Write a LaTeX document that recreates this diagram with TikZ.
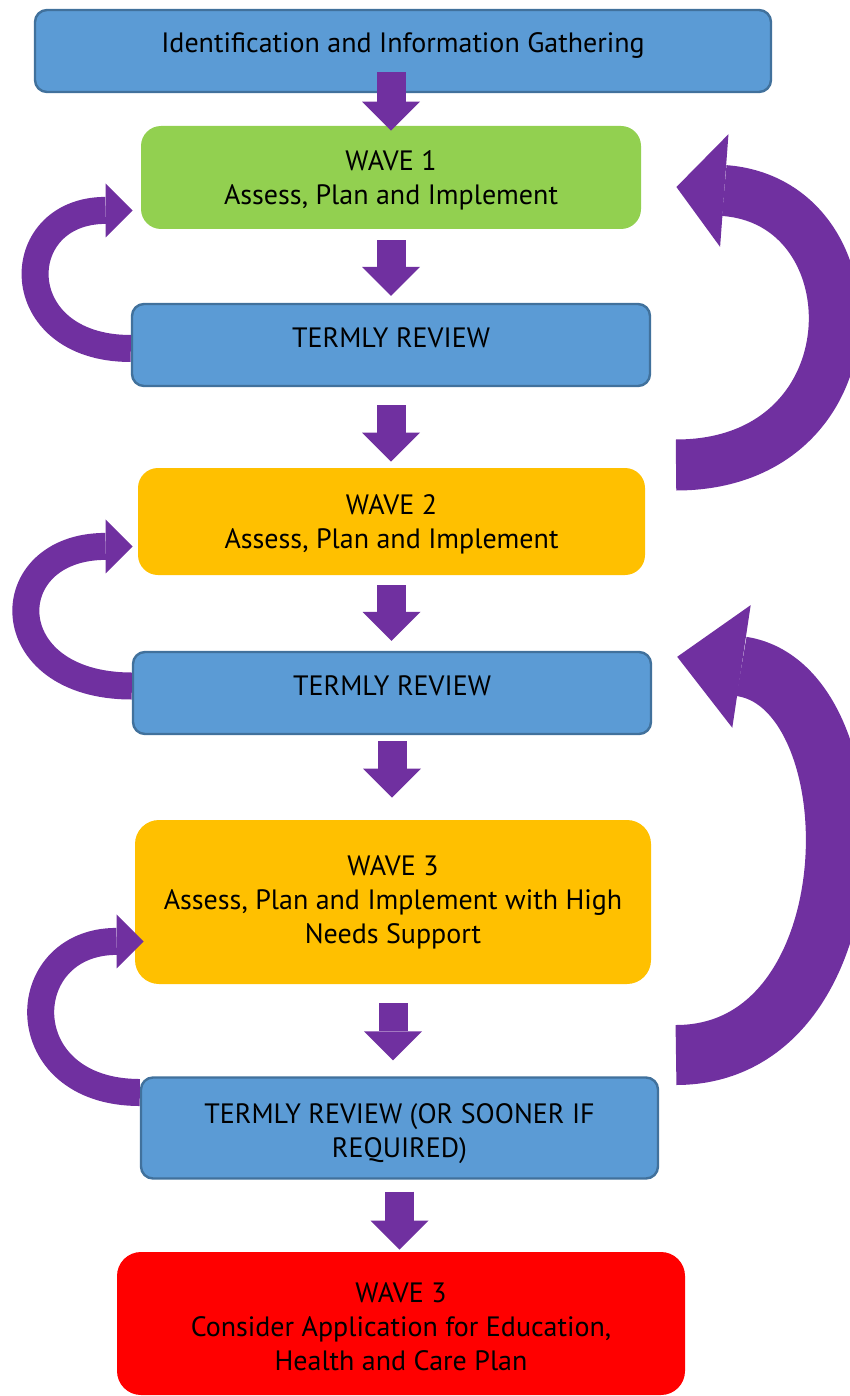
\documentclass[tikz,border=0pt]{standalone}
\usepackage{fontspec}
\setmainfont{PT Sans}
\usetikzlibrary{arrows.meta,calc}
\definecolor{boxblue}{HTML}{5B9BD5}
\definecolor{boxedge}{HTML}{41719C}
\definecolor{wavegreen}{HTML}{92D050}
\definecolor{waveamber}{HTML}{FFC000}
\definecolor{wavered}{HTML}{FF0000}
\definecolor{flowpurple}{HTML}{7030A0}
\tikzstyle{review} = [rectangle, rounded corners=6pt, fill=boxblue, draw=boxedge, line width=1.2pt, align=center, inner sep=0pt]
\tikzstyle{wave} = [rectangle, rounded corners=10pt, align=center, inner sep=0pt]
\tikzstyle{down} = [draw=flowpurple, line width=14.5pt, -{Triangle[width=29pt,length=14.5pt,line width=0pt]}]
\tikzstyle{redo} = [draw=flowpurple, line width=13.5pt, -{Triangle[width=27pt,length=13.5pt,line width=0pt]}]
\tikzstyle{escalate} = [draw=flowpurple, line width=25.5pt, -{Triangle[width=56.5pt,length=24pt,line width=0pt]}]

\begin{document}
\begin{tikzpicture}[x=0.5pt, y=-0.5pt, font=\fontsize{14}{17}\selectfont]
	  \useasboundingbox (0,0) rectangle (850,1396);
	  \node (info) at (403,51) [review, minimum width=368pt, minimum height=41pt, text height=2pt, text depth=0pt] {Identification and Information Gathering};
	  \node (wave1) at (391,177.5) [wave, fill=wavegreen, minimum width=250pt, minimum height=51.5pt, text height=26.8pt, text depth=0pt] {WAVE 1\\Assess, Plan and Implement};
	  \node (review1) at (391,345) [review, minimum width=259pt, minimum height=41pt, text height=2pt, text depth=0pt] {TERMLY REVIEW};
	  \node (wave2) at (391.5,521.5) [wave, fill=waveamber, minimum width=253.5pt, minimum height=53.5pt, text height=26.8pt, text depth=0pt] {WAVE 2\\Assess, Plan and Implement};
	  \node (review2) at (392,693) [review, minimum width=259pt, minimum height=41pt, text height=2pt, text depth=0pt] {TERMLY REVIEW};
	  \node (wave3) at (393,902) [wave, fill=waveamber, rounded corners=12pt, minimum width=258pt, minimum height=82pt, text height=41.3pt, text depth=0pt] {WAVE 3\\Assess, Plan and Implement with High\\Needs Support};
	  \node (review3) at (399.5,1128) [review, minimum width=258.5pt, minimum height=50.5pt, text height=29.3pt, text depth=0pt] {TERMLY REVIEW (OR SOONER IF\\REQUIRED)};
	  \node (ehcp) at (401,1323.5) [wave, fill=wavered, rounded corners=12pt, minimum width=284pt, minimum height=71.5pt, text height=47.3pt, text depth=0pt] {WAVE 3\\Consider Application for Education,\\Health and Care Plan};

	  \coordinate (back1) at (676,465);
	  \coordinate (back2) at (676,1055);

	  \draw [down] ($(wave1.north |- info.south)+(0,-21)$) -- ($(wave1.north)+(0,5)$);
	  \draw [down] ($(wave1.south)+(0,11)$) -- ($(wave1.south |- review1.north)+(0,-7)$);
	  \draw [down] ($(review1.south)+(0,18)$) -- ($(review1.south |- wave2.north)+(0,-6)$);
	  \draw [down] ($(wave2.south)+(0,10)$) -- ($(wave2.south |- review2.north)+(0,-10)$);
	  \draw [down] ($(review2.south)+(0,6)$) -- ($(review2.south |- wave3.north)+(0,-22)$);
	  \draw [down] ($(wave3.south)+(0,19)$) -- ($(wave3.south |- review3.north)+(0,-16)$);
	  \draw [down] ($(review3.south)+(0,12)$) -- ($(review3.south |- ehcp.north)+(0,-2)$);

	  \draw [redo] ($(review1.west)+(0,3.5)$) .. controls +(-124,0) and +(-124,0) .. ($(wave1.south west)+(-8,-19)$);
	  \draw [redo] ($(review2.west)+(0,-7)$) .. controls +(-137,0) and +(-137,0) .. ($(wave2.south west)+(-5,-29)$);
	  \draw [redo] ($(review3.west)+(0,-35.5)$) .. controls +(-130,0) and +(-130,0) .. ($(wave3.south west)+(9,-43)$);

	  \draw [escalate] (back1) .. controls +(202,0) and +(202,15) .. ($(wave1.east)+(35,9.5)$);
	  \draw [escalate, line width=30pt, -{Triangle[width=62pt,length=32.5pt,line width=0pt]}] (back2) .. controls +(200,0) and +(200,30) .. ($(review2.north east)+(25,6)$);
\end{tikzpicture}
\end{document}
